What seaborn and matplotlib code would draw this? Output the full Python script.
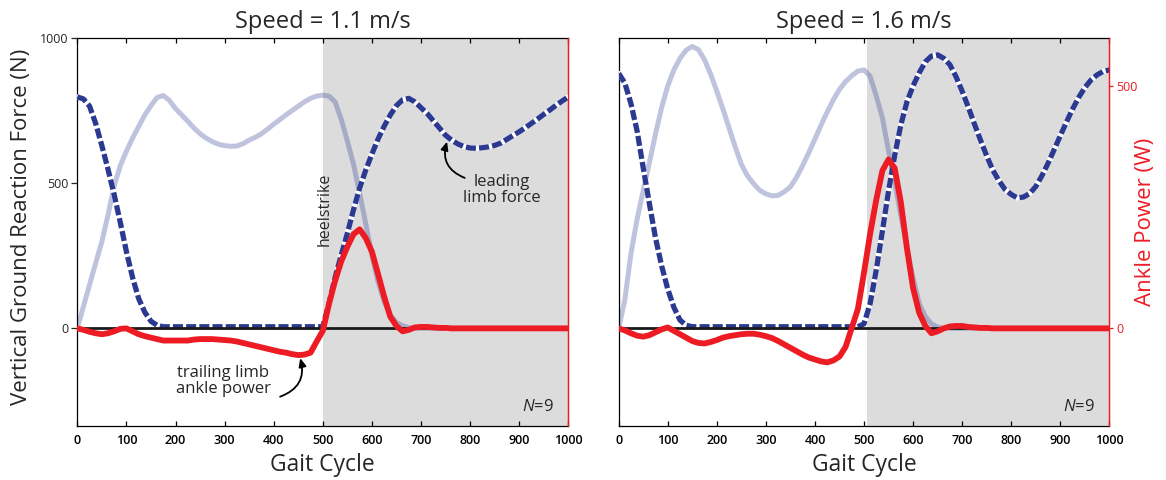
import numpy as np
import matplotlib
matplotlib.use("Agg")
import matplotlib.pyplot as plt
import seaborn as sns

# ---------------------------------------------------------------------------
# Gait-cycle sample points (0-1000, every 12.5)
cycle = np.arange(0, 1000.1, 12.5)

# Speed = 1.1 m/s : vertical ground reaction force (N)
slow_trailing_force = [
    0, 75, 150, 225, 298, 390, 490, 560,
    610, 655, 695, 735, 767, 795, 802, 785,
    757, 735, 713, 690, 670, 655, 643, 634,
    629, 627, 628, 636, 648, 658, 670, 686,
    703, 719, 735, 750, 765, 780, 792, 800,
    803, 800, 780, 720, 645, 565, 465, 360,
    250, 160, 92, 45, 20, 8, 2, 0,
    0, 0, 0, 0, 0, 0, 0, 0,
    0, 0, 0, 0, 0, 0, 0, 0,
    0, 0, 0, 0, 0, 0, 0, 0,
    0]
slow_leading_force = [
    797, 790, 765, 705, 629, 548, 461, 365,
    264, 175, 102, 55, 24, 10, 5, 5,
    5, 5, 5, 5, 5, 5, 5, 5,
    5, 5, 5, 5, 5, 5, 5, 5,
    5, 5, 5, 5, 5, 5, 5, 5,
    5, 85, 175, 252, 327, 408, 483, 545,
    600, 652, 696, 735, 767, 787, 792, 780,
    760, 740, 715, 690, 665, 648, 635, 626,
    621, 620, 622, 625, 630, 638, 651, 664,
    677, 691, 706, 721, 737, 752, 768, 783,
    797]
# Speed = 1.1 m/s : trailing ankle power (W)
slow_power = [
    0, -3, -7, -10, -12, -10, -6, -1,
    0, -6, -12, -16, -19, -22, -25, -25,
    -25, -25, -25, -23, -22, -22, -22, -23,
    -24, -25, -27, -30, -33, -36, -39, -42,
    -45, -48, -50, -53, -55, -54, -50, -27,
    -5, 50, 98, 138, 168, 194, 204, 186,
    158, 112, 65, 24, 5, -6, -3, 2,
    3, 3, 2, 1, 1, 0, 0, 0,
    0, 0, 0, 0, 0, 0, 0, 0,
    0, 0, 0, 0, 0, 0, 0, 0,
    0]

# Speed = 1.6 m/s : vertical ground reaction force (N)
fast_trailing_force = [
    0, 97, 257, 375, 474, 570, 669, 760,
    835, 890, 930, 958, 971, 960, 925, 875,
    817, 755, 690, 625, 565, 525, 498, 475,
    463, 456, 458, 470, 487, 520, 561, 605,
    652, 700, 745, 787, 823, 850, 870, 886,
    890, 868, 800, 725, 611, 505, 390, 278,
    172, 85, 40, 15, 4, 0, 0, 0,
    0, 0, 0, 0, 0, 0, 0, 0,
    0, 0, 0, 0, 0, 0, 0, 0,
    0, 0, 0, 0, 0, 0, 0, 0,
    0]
fast_leading_force = [
    878, 845, 774, 680, 553, 430, 312, 215,
    135, 72, 28, 10, 5, 5, 5, 5,
    5, 5, 5, 5, 5, 5, 5, 5,
    5, 5, 5, 5, 5, 5, 5, 5,
    5, 5, 5, 5, 5, 5, 5, 5,
    15, 85, 201, 335, 473, 595, 700, 780,
    835, 880, 918, 938, 942, 930, 908, 867,
    817, 762, 704, 648, 594, 545, 508, 478,
    461, 449, 452, 464, 488, 525, 568, 615,
    663, 710, 755, 795, 829, 855, 873, 885,
    890]
# Speed = 1.6 m/s : trailing ankle power (W)
fast_power = [
    0, -4, -10, -15, -17, -14, -8, -2,
    2, -5, -12, -19, -26, -30, -31, -28,
    -24, -19, -16, -14, -12, -11, -11, -13,
    -16, -20, -26, -33, -40, -47, -54, -60,
    -64, -68, -70, -66, -58, -38, 1, 40,
    115, 195, 265, 325, 348, 330, 260, 165,
    83, 32, 5, -10, -6, 0, 4, 5,
    5, 3, 2, 1, 1, 0, 0, 0,
    0, 0, 0, 0, 0, 0, 0, 0,
    0, 0, 0, 0, 0, 0, 0, 0,
    0]

speeds = ["Speed = 1.1 m/s", "Speed = 1.6 m/s"]
heelstrike = [501, 506]
x_ticks = list(range(0, 1001, 100))
force_ticks = [0, 500, 1000]
power_ticks = [0, 500]

NAVY = "#2b3990"
RED = "#ed1c24"
SHADE = "#dcdcdc"

sns.set_style("ticks")
plt.rcParams["font.family"] = ["Open Sans", "DejaVu Sans"]
plt.rcParams["mathtext.fontset"] = "custom"
plt.rcParams["mathtext.rm"] = "Open Sans"
plt.rcParams["mathtext.it"] = "Open Sans:italic"

fig = plt.figure(figsize=(11.66, 4.8), dpi=100)
ax_l = fig.add_axes([0.0663, 0.1125, 0.4211, 0.8083])
ax_r = fig.add_axes([0.5306, 0.1125, 0.4208, 0.8083])

panels = [
    (ax_l, slow_trailing_force, slow_leading_force, slow_power, heelstrike[0], speeds[0]),
    (ax_r, fast_trailing_force, fast_leading_force, fast_power, heelstrike[1], speeds[1]),
]

round_line = dict(solid_joinstyle="round", solid_capstyle="round",
                  dash_joinstyle="round")

for i, (ax, trail, lead, power, hs, title) in enumerate(panels):
    ax.set_facecolor("white")
    ax.axvspan(hs, 1000, color=SHADE, lw=0, zorder=0)

    # trailing limb force (faint), leading limb force (dashed)
    sns.lineplot(x=cycle, y=trail, ax=ax, color=NAVY, alpha=0.3, lw=3.6, zorder=2, **round_line)
    sns.lineplot(x=cycle, y=lead, ax=ax, color="white", lw=3.8, zorder=3, **round_line)
    sns.lineplot(x=cycle, y=lead, ax=ax, color=NAVY, lw=3.8,
                 linestyle=(0, (1.9, 0.6)), zorder=4, **round_line)
    ax.axhline(0, color="#1a1a1a", lw=2.0, zorder=5)

    # ankle power on its own scale
    axp = ax.twinx()
    sns.lineplot(x=cycle, y=power, ax=axp, color=RED, lw=4.2, zorder=5, **round_line)
    axp.set_ylim(-201, 598)

    ax.set_xlim(0, 1000)
    ax.set_ylim(-337, 1000)
    ax.set_xticks(x_ticks)
    ax.tick_params(axis="x", direction="in", top=True, bottom=True, length=3.5,
                   width=0.9, pad=6, labelsize=9, colors="black")
    for lab in ax.get_xticklabels():
        lab.set_fontweight("semibold")
    ax.set_xlabel("Gait Cycle", fontsize=16.5, va="center")
    ax.xaxis.set_label_coords(0.5, -0.1)
    ax.set_title(title, fontsize=17, pad=7)

    for side in ["left", "top", "bottom"]:
        ax.spines[side].set_color("black")
        ax.spines[side].set_linewidth(0.9)
    ax.spines["right"].set_color(RED)
    ax.spines["right"].set_linewidth(0.9)

    ax.set_yticks(force_ticks)
    if i == 0:
        ax.tick_params(axis="y", direction="out", length=4, width=0.9, pad=2.5,
                       labelsize=9, left=True, right=False, labelleft=True)
        ax.set_ylabel("Vertical Ground Reaction Force (N)", fontsize=16, va="center")
        ax.yaxis.set_label_coords(-0.113, 0.514)
    else:
        ax.tick_params(axis="y", left=False, right=False, labelleft=False, labelright=False)
        ax.set_ylabel("")

    for side in ["left", "top", "bottom"]:
        axp.spines[side].set_visible(False)
    axp.spines["right"].set_color(RED)
    axp.spines["right"].set_linewidth(0.9)
    if i == 1:
        axp.set_yticks(power_ticks)
        axp.tick_params(axis="y", direction="out", length=3, width=0.9, pad=2,
                        labelsize=9, colors=RED, left=False, right=True)
        axp.set_ylabel("Ankle Power (W)", fontsize=16, color=RED, va="center")
        axp.yaxis.set_label_coords(1.073, 0.526)
    else:
        axp.set_yticks([])
        axp.set_ylabel("")

    ax.text(970, -273, "$N$=9", fontsize=12, ha="right", va="center", zorder=6)

# annotations on the 1.1 m/s panel
ax_l.text(503, 410, "heelstrike", rotation=90, fontsize=11.5, ha="center", va="center", zorder=6)
ax_l.text(864, 476, "leading\nlimb force", fontsize=12, ha="center", va="center",
          multialignment="center", linespacing=1.05, zorder=6)
ax_l.annotate("", xy=(753, 643), xytext=(789, 518),
              arrowprops=dict(arrowstyle="-|>,head_length=0.5,head_width=0.22", lw=1.3,
                              color="black", shrinkA=0, shrinkB=0,
                              connectionstyle="arc3,rad=-0.45"), zorder=6)
ax_l.text(297, -182, "trailing limb\nankle power", fontsize=12, ha="center", va="center",
          multialignment="center", linespacing=1.05, zorder=6)
ax_l.annotate("", xy=(454, -103), xytext=(413, -236),
              arrowprops=dict(arrowstyle="-|>,head_length=0.5,head_width=0.22", lw=1.3,
                              color="black", shrinkA=0, shrinkB=0,
                              connectionstyle="arc3,rad=0.45"), zorder=6)

fig.savefig("out.png", dpi=100)
